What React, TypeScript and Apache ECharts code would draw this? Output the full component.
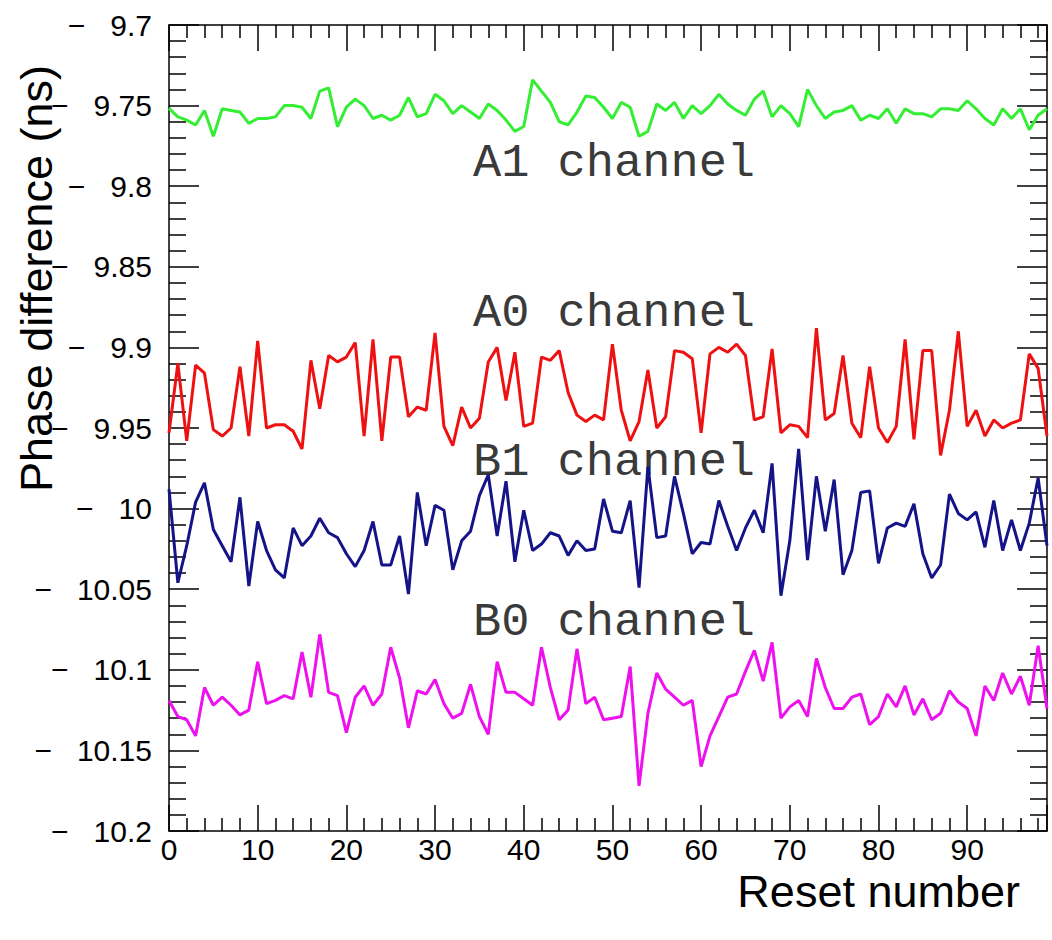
import React, { useEffect, useRef } from "react";
import * as echarts from "echarts";

const resetNumbers: number[] = Array.from({ length: 100 }, (_, i) => i);

const a1Channel: number[] = [
  -9.7517, -9.757, -9.759, -9.762, -9.753, -9.769, -9.752, -9.753, -9.754, -9.761,
  -9.758, -9.758, -9.757, -9.75, -9.75, -9.751, -9.758, -9.741, -9.739, -9.763,
  -9.751, -9.746, -9.75, -9.758, -9.756, -9.759, -9.756, -9.745, -9.757, -9.755,
  -9.743, -9.747, -9.755, -9.75, -9.754, -9.758, -9.749, -9.753, -9.759, -9.766,
  -9.763, -9.734, -9.741, -9.748, -9.76, -9.762, -9.754, -9.744, -9.745, -9.751,
  -9.758, -9.748, -9.751, -9.769, -9.766, -9.749, -9.753, -9.748, -9.758, -9.75,
  -9.755, -9.75, -9.743, -9.749, -9.753, -9.756, -9.746, -9.741, -9.757, -9.75,
  -9.755, -9.763, -9.74, -9.75, -9.758, -9.754, -9.753, -9.75, -9.759, -9.756,
  -9.758, -9.752, -9.761, -9.752, -9.755, -9.755, -9.757, -9.752, -9.752, -9.753,
  -9.747, -9.752, -9.758, -9.762, -9.752, -9.758, -9.752, -9.765, -9.756, -9.752,
];

const a0Channel: number[] = [
  -9.953, -9.91, -9.958, -9.911, -9.916, -9.951, -9.955, -9.95, -9.912, -9.955,
  -9.896, -9.95, -9.948, -9.948, -9.952, -9.963, -9.908, -9.938, -9.905, -9.909,
  -9.906, -9.897, -9.955, -9.895, -9.958, -9.906, -9.906, -9.943, -9.937, -9.939,
  -9.891, -9.949, -9.961, -9.937, -9.95, -9.944, -9.909, -9.9, -9.933, -9.903,
  -9.949, -9.947, -9.906, -9.908, -9.902, -9.928, -9.942, -9.946, -9.942, -9.945,
  -9.898, -9.939, -9.958, -9.946, -9.914, -9.95, -9.943, -9.902, -9.903, -9.907,
  -9.953, -9.904, -9.9, -9.903, -9.898, -9.905, -9.945, -9.943, -9.901, -9.953,
  -9.948, -9.949, -9.956, -9.888, -9.945, -9.941, -9.905, -9.947, -9.956, -9.912,
  -9.95, -9.959, -9.949, -9.895, -9.957, -9.902, -9.902, -9.967, -9.939, -9.89,
  -9.949, -9.939, -9.955, -9.945, -9.95, -9.947, -9.945, -9.904, -9.913, -9.955,
];

const b1Channel: number[] = [
  -9.988, -10.046, -10.023, -9.996, -9.984, -10.013, -10.023, -10.033, -9.993, -10.048,
  -10.008, -10.026, -10.038, -10.043, -10.012, -10.023, -10.017, -10.006, -10.015, -10.018,
  -10.028, -10.036, -10.026, -10.008, -10.035, -10.035, -10.017, -10.053, -9.99, -10.023,
  -9.998, -10.001, -10.038, -10.02, -10.014, -9.992, -9.979, -10.017, -9.983, -10.033,
  -10.001, -10.026, -10.022, -10.015, -10.017, -10.029, -10.02, -10.026, -10.025, -9.994,
  -10.014, -10.015, -9.995, -10.049, -9.974, -10.018, -10.017, -9.98, -10.003, -10.028,
  -10.021, -10.022, -9.995, -10.011, -10.026, -10.012, -10.001, -10.015, -9.972, -10.054,
  -10.02, -9.963, -10.032, -9.98, -10.014, -9.982, -10.041, -10.026, -9.99, -9.989,
  -10.034, -10.012, -10.009, -10.011, -9.997, -10.028, -10.043, -10.035, -9.991, -10.003,
  -10.007, -10.002, -10.024, -9.995, -10.026, -10.007, -10.026, -10.009, -9.981, -10.023,
];

const b0Channel: number[] = [
  -10.119, -10.129, -10.131, -10.141, -10.111, -10.122, -10.117, -10.122, -10.128, -10.125,
  -10.095, -10.121, -10.119, -10.116, -10.118, -10.089, -10.117, -10.078, -10.114, -10.116,
  -10.139, -10.117, -10.11, -10.122, -10.115, -10.086, -10.105, -10.136, -10.113, -10.115,
  -10.106, -10.121, -10.13, -10.127, -10.109, -10.129, -10.14, -10.095, -10.114, -10.114,
  -10.118, -10.122, -10.086, -10.111, -10.131, -10.125, -10.087, -10.121, -10.117, -10.131,
  -10.13, -10.129, -10.098, -10.172, -10.127, -10.102, -10.112, -10.117, -10.122, -10.119,
  -10.16, -10.141, -10.129, -10.117, -10.115, -10.101, -10.088, -10.107, -10.083, -10.13,
  -10.123, -10.119, -10.129, -10.093, -10.111, -10.124, -10.124, -10.117, -10.115, -10.134,
  -10.129, -10.115, -10.123, -10.11, -10.128, -10.118, -10.131, -10.127, -10.113, -10.12,
  -10.124, -10.141, -10.11, -10.119, -10.102, -10.115, -10.104, -10.122, -10.085, -10.124,
];

const seriesNames: string[] = ["A1 channel", "A0 channel", "B1 channel", "B0 channel"];
const seriesColors: string[] = ["#33ee33", "#ee1111", "#141488", "#ee11ee"];

const xTitle = "Reset number";
const yTitle = "Phase difference (ns)";

function fmtY(v: number): string {
  const r = Math.round(v * 100) / 100;
  const s = String(Math.abs(r));
  return (r < 0 ? "\u2212\u00A0\u00A0\u00A0" : "") + s;
}

export default function App() {
  const ref = useRef<HTMLDivElement>(null);
  useEffect(() => {
    if (!ref.current) return;
    const chart = echarts.init(ref.current, undefined, { renderer: "svg" });
    const allData = [a1Channel, a0Channel, b1Channel, b0Channel];
    const labelFont = "'Liberation Sans', Arial, sans-serif";
    const monoFont = "'Liberation Mono', 'Courier New', monospace";
    const baseX = {
      type: "value" as const,
      min: 0,
      max: 99,
      interval: 10,
      axisLine: { show: true, onZero: false, lineStyle: { color: "#000", width: 1.5 } },
      axisTick: { show: true, inside: true, length: 26, lineStyle: { color: "#000", width: 1.5 } },
      minorTick: { show: true, splitNumber: 5, length: 13, lineStyle: { color: "#000", width: 1.5 } },
      splitLine: { show: false },
    };
    const baseY = {
      type: "value" as const,
      min: -10.2,
      max: -9.7,
      interval: 0.05,
      axisLine: { show: true, onZero: false, lineStyle: { color: "#000", width: 1.5 } },
      axisTick: { show: true, inside: true, length: 30, lineStyle: { color: "#000", width: 1.5 } },
      minorTick: { show: true, splitNumber: 5, length: 17, lineStyle: { color: "#000", width: 1.5 } },
      splitLine: { show: false },
    };
    chart.setOption({
      animation: false,
      backgroundColor: "#fff",
      grid: { left: 169, right: 5, top: 25, bottom: 109, containLabel: false },
      xAxis: [
        {
          ...baseX,
          position: "bottom",
          axisLabel: {
            show: true,
            fontSize: 30,
            fontFamily: labelFont,
            color: "#000",
            margin: 3,
            lineHeight: 30,
            showMaxLabel: false,
          },
        },
        { ...baseX, position: "top", axisLabel: { show: false } },
      ],
      yAxis: [
        {
          ...baseY,
          position: "left",
          axisLabel: {
            show: true,
            fontSize: 30,
            fontFamily: labelFont,
            color: "#000",
            margin: 17,
            formatter: (v: number) => fmtY(v),
          },
        },
        { ...baseY, position: "right", axisLabel: { show: false } },
      ],
      series: allData.map((d, k) => ({
        name: seriesNames[k],
        type: "line",
        data: d.map((v, i) => [resetNumbers[i], v]),
        showSymbol: false,
        symbol: "none",
        lineStyle: { color: seriesColors[k], width: 3 },
        itemStyle: { color: seriesColors[k] },
        xAxisIndex: 0,
        yAxisIndex: 0,
      })),
      graphic: [
        {
          type: "text",
          x: 36,
          y: 65,
          rotation: Math.PI / 2,
          style: {
            text: yTitle,
            fontSize: 45,
            fontFamily: labelFont,
            fill: "#000",
            align: "right",
            verticalAlign: "middle",
          },
        },
        {
          type: "text",
          x: 1020,
          y: 891,
          style: {
            text: xTitle,
            fontSize: 45,
            lineHeight: 45,
            fontFamily: labelFont,
            fill: "#000",
            align: "right",
            verticalAlign: "middle",
          },
        },
        ...[163, 313, 462, 622].map((yy, k) => ({
          type: "text",
          x: 473,
          y: yy,
          style: {
            text: seriesNames[k],
            fontSize: 47,
            fontFamily: monoFont,
            fill: "#3a3a3a",
            align: "left",
            verticalAlign: "middle",
          },
        })),
      ],
    });
    return () => chart.dispose();
  }, []);
  return (
    <div
      ref={ref}
      style={{ position: "absolute", left: 0, top: 0, width: 1052, height: 940 }}
    />
  );
}
